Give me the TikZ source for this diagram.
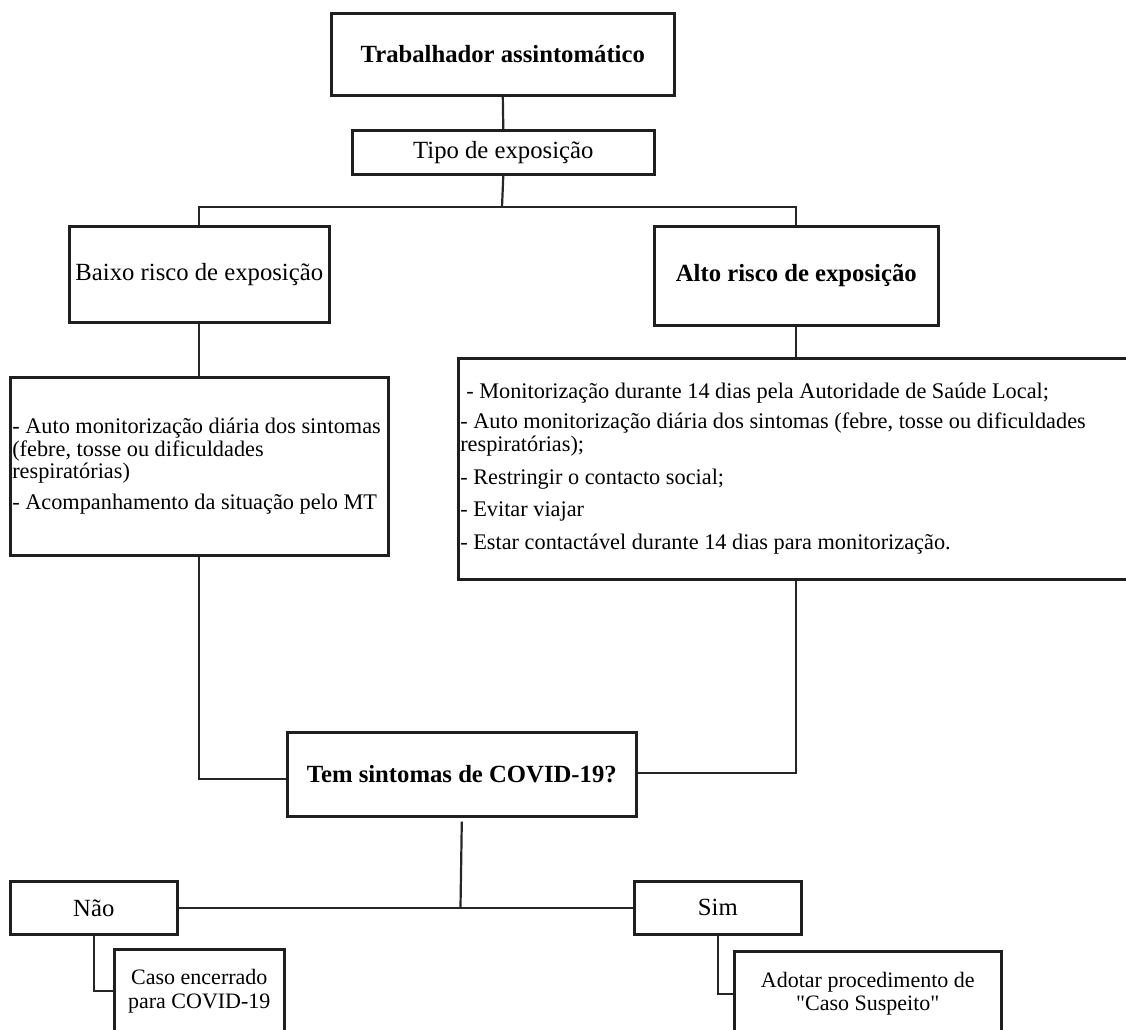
\documentclass[tikz,border=0pt]{standalone}
\usepackage{fontspec}
\setmainfont{Liberation Serif}[Ligatures=TeXOff]
\begin{document}
\begin{tikzpicture}[x=1pt,y=-1pt,
  box/.style={draw=black!88,line width=2.6pt,inner sep=1pt,anchor=north west,align=center},
  head/.style={font=\fontsize{24.7}{26}\selectfont},
  body/.style={font=\fontsize{22.3}{22.5}\selectfont},
  conn/.style={draw=black!85,line width=2.2pt}]
\useasboundingbox (0,0) rectangle (1126,1029);
\clip (0,0) rectangle (1126,1029);
% nodes
\node[box,head,minimum width=343,minimum height=82] (top) at (330,12) {\textbf{Trabalhador assintomático}};
\node[box,head,minimum width=302,minimum height=44] (tipo) at (351,129) {Tipo de exposição};
\node[box,head,minimum width=260,minimum height=96] (baixo) at (68,225) {Baixo risco de exposição};
\node[box,head,minimum width=284,minimum height=99] (alto) at (653,225) {\textbf{Alto risco de exposição}};
\node[box,body,minimum width=378,minimum height=178,text width=374,align=flush left] (lowlist) at (9,376)
  {- Auto monitorização diária dos sintomas\\(febre, tosse ou dificuldades\\respiratórias)\\[8.5pt]- Acompanhamento da situação pelo MT};
\node[box,body,minimum width=690,minimum height=221,text width=686,align=flush left] (biglist) at (457,357)
  {\hspace*{6pt}- Monitorização durante 14 dias pela Autoridade de Saúde Local;\\[8pt]- Auto monitorização diária dos sintomas (febre, tosse ou dificuldades\\respiratórias);\\[10.5pt]- Restringir o contacto social;\\[10pt]- Evitar viajar\\[10.5pt]- Estar contactável durante 14 dias para monitorização.};
\node[box,head,minimum width=349,minimum height=84] (tem) at (286,731) {\textbf{Tem sintomas de COVID-19?}};
\node[box,head,minimum width=167,minimum height=53] (nao) at (9,880) {Não};
\node[box,head,minimum width=167,minimum height=53] (sim) at (633,880) {Sim};
\node[box,font=\fontsize{22}{24}\selectfont,minimum width=170,minimum height=84] (caso) at (113,948) {Caso encerrado\\para COVID-19};
\node[box,font=\fontsize{22}{22.5}\selectfont,minimum width=267,minimum height=85] (adotar) at (733,950) {Adotar procedimento de\\"Caso Suspeito"};
% junction coordinates
\coordinate (br) at (502,207);
\coordinate (jn) at (460.5,907);
% connectors
\draw[conn] (top.south) -- (tipo.north);
\draw[conn] (tipo.south) -- (br);
\draw[conn] (baixo.north) -- (baixo.north |- br) -- (alto.north |- br) -- (alto.north);
\draw[conn] (baixo.south) -- (lowlist.north);
\draw[conn] (alto.south) -- (alto.south |- biglist.north);
\draw[conn] (lowlist.south) |- ([yshift=-5pt]tem.west);
\draw[conn] (alto.south |- biglist.south) |- ([yshift=1pt]tem.east);
\draw[conn] ([yshift=-4pt]tem.south) -- (jn);
\draw[conn] (nao.east) -- (sim.west);
\draw[conn] (nao.south) |- (caso.west);
\draw[conn] (sim.south) |- (adotar.west);
\end{tikzpicture}
\end{document}
